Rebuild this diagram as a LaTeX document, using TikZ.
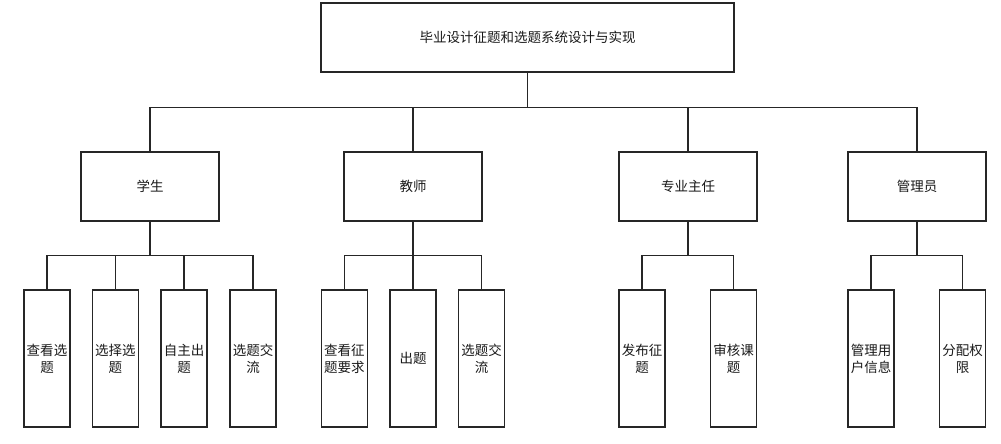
\documentclass[tikz,border=0pt]{standalone}
\usepackage{fontspec}
\newfontfamily\cjk{Noto Sans CJK SC}
\tikzset{
  box/.style={draw=black!85, line width=1.3pt, inner sep=0pt, align=center, text=black!90,
    font=\cjk\fontsize{13.5}{17}\selectfont},
  topbox/.style={box, minimum width=413pt, minimum height=69pt},
  rolebox/.style={box, minimum width=138pt, minimum height=69pt},
  leafbox/.style={box, minimum width=46pt, minimum height=137pt},
  link/.style={draw=black!85, line width=1.3pt}
}
\begin{document}
\begin{tikzpicture}[x=1pt,y=-1pt]
    \useasboundingbox (0,0) rectangle (1001,444);
    % top
    \node[topbox] (root) at (527.5,37.5) {毕业设计征题和选题系统设计与实现};
    % roles
    \node[rolebox] (stu) at (150,186.5) {学生};
    \node[rolebox] (tea) at (413,186.5) {教师};
    \node[rolebox] (dir) at (688,186.5) {专业主任};
    \node[rolebox] (adm) at (917,186.5) {管理员};
    % leaves
    \node[leafbox] (s1) at (47,358.5) {查看选\\题};
    \node[leafbox] (s2) at (115.3,358.5) {选择选\\题};
    \node[leafbox] (s3) at (184,358.5) {自主出\\题};
    \node[leafbox] (s4) at (253,358.5) {选题交\\流};
    \node[leafbox] (t1) at (344.3,358.5) {查看征\\题要求};
    \node[leafbox] (t2) at (413,358.5) {出题};
    \node[leafbox] (t3) at (481.7,358.5) {选题交\\流};
    \node[leafbox] (d1) at (642,358.5) {发布征\\题};
    \node[leafbox] (d2) at (733.7,358.5) {审核课\\题};
    \node[leafbox] (a1) at (871,358.5) {管理用\\户信息};
    \node[leafbox] (a2) at (962.7,358.5) {分配权\\限};

    % connectors
    \draw[link] (root.south) -- ++(0,35) coordinate (topbus);
    \draw[link] (stu.north) |- (topbus) -| (adm.north);
    \foreach \r in {tea,dir}
        \draw[link] (\r.north) -- (\r.north |- topbus);

    \draw[link] (stu.south) -- ++(0,34) coordinate (stubus);
    \draw[link] (s1.north) |- (stubus) -| (s4.north);
    \foreach \l in {s2,s3}
        \draw[link] (\l.north) -- (\l.north |- stubus);

    \draw[link] (tea.south) -- ++(0,34) coordinate (teabus);
    \draw[link] (t1.north) |- (teabus) -| (t3.north);
    \draw[link] (t2.north) -- (t2.north |- teabus);

    \draw[link] (dir.south) -- ++(0,34) coordinate (dirbus);
    \draw[link] (d1.north) |- (dirbus) -| (d2.north);

    \draw[link] (adm.south) -- ++(0,34) coordinate (admbus);
    \draw[link] (a1.north) |- (admbus) -| (a2.north);
\end{tikzpicture}
\end{document}
